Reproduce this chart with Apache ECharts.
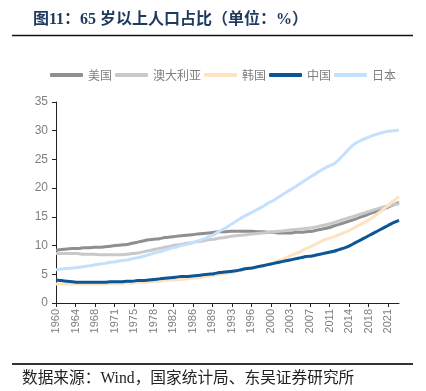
<!DOCTYPE html>
<html><head><meta charset="utf-8">
<script src="https://cdn.jsdelivr.net/npm/echarts@6/dist/echarts.min.js"></script>
<style>html,body{margin:0;padding:0;background:#fff}#c{width:426px;height:391px}</style>
</head><body><div id="c"></div>
<script>
const years = [];
for (let y = 1960; y <= 2023; y++) years.push(y);
const xTickLabels = ['1960','1964','1968','1971','1975','1978','1982','1986','1989','1993','1996','2000','2003','2007','2011','2014','2018','2021'];
const yTicks = [0,5,10,15,20,25,30,35];
const seriesNames = ['美国','澳大利亚','韩国','中国','日本'];
const usa = [9.2,9.3,9.4,9.5,9.5,9.6,9.6,9.7,9.7,9.8, 9.9,10.0,10.1,10.2,10.4,10.6,10.8,11.0,11.1,11.2, 11.4,11.5,11.6,11.7,11.8,11.9,12.0,12.1,12.2,12.3, 12.4,12.4,12.5,12.5,12.5,12.5,12.5,12.4,12.4,12.3, 12.3,12.2,12.2,12.2,12.3,12.3,12.4,12.5,12.7,12.9, 13.1,13.4,13.7,14.0,14.3,14.6,15.0,15.3,15.7,16.0, 16.3,16.7,17.1,17.5];
const australia = [8.6,8.6,8.6,8.6,8.6,8.5,8.5,8.5,8.4,8.4, 8.4,8.4,8.4,8.5,8.6,8.7,8.9,9.1,9.3,9.5, 9.7,9.9,10.1,10.2,10.4,10.5,10.7,10.8,11.0,11.1, 11.3,11.4,11.6,11.7,11.8,11.9,12.0,12.1,12.2,12.3, 12.4,12.5,12.6,12.7,12.8,12.9,13.0,13.1,13.3,13.5, 13.7,14.0,14.3,14.6,14.9,15.2,15.5,15.8,16.1,16.4, 16.7,16.9,17.1,17.3];
const korea = [3.3,3.3,3.3,3.3,3.3,3.3,3.3,3.3,3.3,3.3, 3.4,3.4,3.4,3.5,3.5,3.6,3.6,3.7,3.7,3.8, 3.9,4.0,4.0,4.1,4.2,4.3,4.4,4.5,4.7,4.8, 5.0,5.1,5.3,5.5,5.7,5.9,6.1,6.3,6.5,6.7, 7.0,7.4,7.8,8.2,8.6,9.0,9.5,9.9,10.4,10.9, 11.2,11.5,11.9,12.3,12.7,13.2,13.7,14.2,14.8,15.5, 16.2,17.0,17.8,18.5];
const china = [4.0,3.9,3.8,3.7,3.6,3.6,3.6,3.6,3.6,3.6, 3.7,3.7,3.7,3.8,3.8,3.9,3.9,4.0,4.1,4.2, 4.3,4.4,4.5,4.6,4.6,4.7,4.8,4.9,5.0,5.1, 5.3,5.4,5.5,5.6,5.8,6.0,6.1,6.3,6.5,6.7, 6.9,7.1,7.3,7.5,7.7,7.9,8.1,8.2,8.4,8.6, 8.8,9.0,9.3,9.6,10.0,10.5,11.0,11.5,12.0,12.5, 13.0,13.5,14.0,14.4];
const japan = [5.8,5.9,6.0,6.1,6.2,6.3,6.5,6.6,6.8,6.9, 7.1,7.2,7.4,7.5,7.7,7.9,8.1,8.4,8.7,8.9, 9.2,9.5,9.7,10.0,10.2,10.5,10.8,11.1,11.5,11.9, 12.5,13.0,13.6,14.2,14.8,15.3,15.8,16.3,16.8,17.4, 17.9,18.5,19.1,19.7,20.3,20.9,21.5,22.1,22.7,23.3, 23.8,24.2,25.0,26.0,27.0,27.8,28.3,28.7,29.1,29.4, 29.7,29.9,30.0,30.1];

const values = [usa, australia, korea, china, japan];
const colors = ['#8f8f8f','#c9c9c9','#fde3c2','#0a5699','#c3e1fd'];

const x0 = years[0], xLastTick = Number(xTickLabels[xTickLabels.length-1]);
const step = (xLastTick - x0) / (xTickLabels.length - 1);
const tickPos = xTickLabels.map((_, i) => x0 + i * step);

const chart = echarts.init(document.getElementById('c'));
chart.setOption({
  animation: false,
  backgroundColor: '#fff',
  color: colors,
  legend: {
    top: 64, left: 45, itemWidth: 33, itemHeight: 4, itemGap: 3, icon: 'roundRect',
    textStyle: { color: '#808080', fontSize: 12, fontFamily: 'Noto Sans CJK SC' },
    data: seriesNames
  },
  grid: { left: 56, right: 27, top: 102, bottom: 88, containLabel: false },
  xAxis: {
    type: 'value', min: years[0], max: years[years.length-1],
    splitLine: { show: false },
    axisLine: { lineStyle: { color: '#222', width: 1 } },
    axisTick: { customValues: tickPos, length: 4, lineStyle: { color: '#222' } },
    axisLabel: {
      customValues: tickPos, rotate: 90, color: '#7f7f7f', fontSize: 11, margin: 6,
      fontFamily: 'Liberation Sans',
      formatter: v => xTickLabels[Math.round((v - x0) / step)]
    }
  },
  yAxis: {
    type: 'value', min: yTicks[0], max: yTicks[yTicks.length-1], interval: yTicks[1]-yTicks[0],
    splitLine: { show: false },
    axisLine: { show: true, lineStyle: { color: '#222', width: 1 } },
    axisTick: { show: true, length: 4, lineStyle: { color: '#222' } },
    axisLabel: { color: '#7f7f7f', fontSize: 12, margin: 8, fontFamily: 'Liberation Sans' }
  },
  series: seriesNames.map((n, i) => ({
    name: n, type: 'line', smooth: 0.4, symbol: 'none',
    lineStyle: { width: 3, color: colors[i] },
    data: years.map((y, j) => [y, values[i][j]])
  })),
  graphic: [
    { type: 'text', left: 33, top: 12, style: { text: '图11：65 岁以上人口占比（单位：%）', fill: '#1f3a5f', font: 'bold 16px "Liberation Serif", "Noto Sans CJK SC"' } },
    { type: 'line', shape: { x1: 12, y1: 35.5, x2: 413, y2: 35.5 }, style: { stroke: '#111', lineWidth: 1.5 } },
    { type: 'line', shape: { x1: 12, y1: 364, x2: 413, y2: 364 }, style: { stroke: '#333', lineWidth: 2 } },
    { type: 'text', left: 22, top: 371, style: { text: '数据来源：Wind，国家统计局、东吴证券研究所', fill: '#222', font: '15.7px "Liberation Serif", "Noto Sans CJK SC"' } }
  ]
});
</script></body></html>
